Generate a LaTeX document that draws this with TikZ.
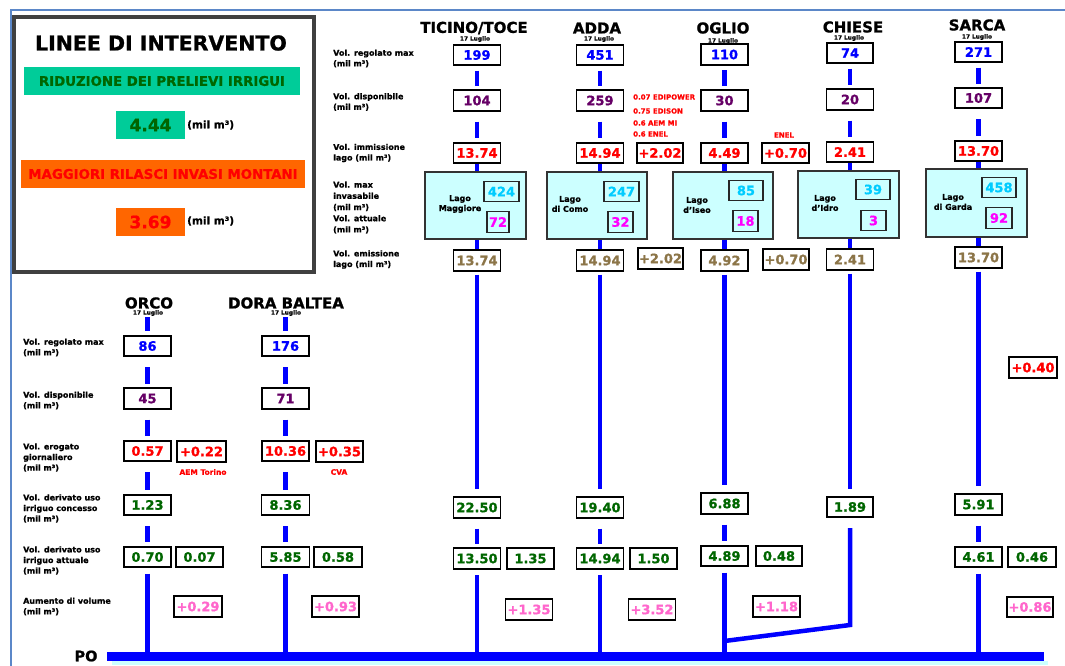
\documentclass[tikz,border=0pt]{standalone}
\usepackage{fontspec}
\setmainfont{DejaVu Sans}[BoldFeatures={FakeBold=1}]
\definecolor{frameblue}{HTML}{5B87C8}
\definecolor{vblue}{HTML}{0000FF}
\definecolor{vpurple}{HTML}{660066}
\definecolor{vred}{HTML}{FF0000}
\definecolor{vcyan}{HTML}{00CCFF}
\definecolor{vmag}{HTML}{FF00FF}
\definecolor{vbrown}{HTML}{8C7548}
\definecolor{vgreen}{HTML}{006600}
\definecolor{vpink}{HTML}{FF66CC}
\definecolor{lakefill}{HTML}{CCFFFF}
\definecolor{mint}{HTML}{00CC99}
\definecolor{orng}{HTML}{FF6600}
\definecolor{legframe}{HTML}{404040}
\newcommand\fsz[1]{\fontsize{#1}{#1}\selectfont\bfseries}
\begin{document}
\begin{tikzpicture}[x=1pt,y=-1pt,
  vbox/.style={draw=black, line width=1.6pt, fill=white, inner sep=0pt,
    minimum width=47pt, minimum height=20.5pt, font=\fsz{13}},
  inbox/.style={draw=black!85, line width=1.3pt, inner sep=0pt,
    minimum height=20.5pt, font=\fsz{13}},
  lake/.style={draw=black!80, line width=1.3pt, fill=lakefill, inner sep=0pt,
    minimum width=101pt, minimum height=67pt},
  lakelab/.style={align=center, inner sep=0pt, font=\fontsize{8}{10}\selectfont\bfseries},
  rowlab/.style={anchor=west, align=left, inner sep=0pt, font=\fontsize{8}{10.6}\selectfont\bfseries},
  rivtitle/.style={inner sep=0pt, font=\fsz{15}},
  datelab/.style={inner sep=0pt, font=\fsz{5.8}},
  note/.style={inner sep=0pt, text=vred, font=\fsz{7}},
  flow/.style={draw=vblue, line width=4.5pt},
  segA/.style={flow, shorten <=4.5pt, shorten >=3pt},
  segB/.style={flow, shorten <=10pt, shorten >=3.5pt},
  trunk/.style={flow, shorten <=3pt, shorten >=7pt},
  tail/.style={flow, shorten <=5.5pt}
]
\useasboundingbox (0,0) rectangle (1065,666);
% frame lines
\draw[frameblue, line width=2pt] (10.5,666) -- (10.5,10.5) -- (1065,10.5);

% legend
\node[draw=legframe, line width=4pt, minimum width=300pt, minimum height=255pt, inner sep=0pt] (leg) at (164,144.5) {};
\node[inner sep=0pt, font=\fsz{20.5}] (legt) at (161,43) {LINEE DI INTERVENTO};
\node[fill=mint, minimum width=276pt, minimum height=28pt, inner sep=0pt, text=vgreen, font=\fsz{13.3}] (leg1) at (162,81) {RIDUZIONE DEI PRELIEVI IRRIGUI};
\node[fill=mint, minimum width=69pt, minimum height=28pt, inner sep=0pt, text=vgreen, font=\fsz{17}] (leg1v) at (150.5,125) {4.44};
\node[anchor=west, inner sep=0pt, font=\fsz{10.5}] (leg1u) at (187,125) {(mil m³)};
\node[fill=orng, minimum width=284pt, minimum height=28pt, inner sep=0pt, text=vred, font=\fsz{13.3}] (leg2) at (163,174) {MAGGIORI RILASCI INVASI MONTANI};
\node[fill=orng, minimum width=69pt, minimum height=28pt, inner sep=0pt, text=vred, font=\fsz{17}] (leg2v) at (150.5,222) {3.69};
\node[anchor=west, inner sep=0pt, font=\fsz{10.5}] (leg2u) at (187,221) {(mil m³)};

% row labels top
\node[rowlab] (lt1) at (333,58.5) {Vol. regolato max\\(mil m³)};
\node[rowlab] (lt2) at (333,102) {Vol. disponibile\\(mil m³)};
\node[rowlab] (lt3) at (333,153) {Vol. immissione\\lago (mil m³)};
\node[rowlab, font=\fontsize{8}{11.2}\selectfont\bfseries] (lt4) at (333,207.5) {Vol. max\\invasabile\\(mil m³)\\Vol. attuale\\(mil m³)};
\node[rowlab] (lt5) at (333,259.5) {Vol. emissione\\lago (mil m³)};
% row labels left
\node[rowlab] (ll1) at (23,347.5) {Vol. regolato max\\(mil m³)};
\node[rowlab] (ll2) at (23,400.5) {Vol. disponibile\\(mil m³)};
\node[rowlab] (ll3) at (23,457.5) {Vol. erogato\\giornaliero\\(mil m³)};
\node[rowlab] (ll4) at (23,508.5) {Vol. derivato uso\\irriguo concesso\\(mil m³)};
\node[rowlab] (ll5) at (23,560.5) {Vol. derivato uso\\irriguo attuale\\(mil m³)};
\node[rowlab] (ll6) at (23,606.5) {Aumento di volume\\(mil m³)};

% PO
\coordinate (poL) at (107,656.5);
\coordinate (poR) at (1044,656.5);
\fill[lakefill] (112,661) rectangle (1048,665);
\draw[vblue, line width=9pt] (poL) -- (poR);
\node[inner sep=0pt, font=\fsz{14.5}] (potxt) at (86,656) {PO};

% titles
\node[rivtitle] (ht) at (474,28) {TICINO/TOCE};
\node[rivtitle] (ha) at (597,28) {ADDA};
\node[rivtitle] (ho) at (723,28) {OGLIO};
\node[rivtitle] (hc) at (853,27) {CHIESE};
\node[rivtitle] (hs) at (977,25) {SARCA};
\node[datelab] (dt) at (475,39) {17 Luglio};
\node[datelab] (da) at (599,39) {17 Luglio};
\node[datelab] (do) at (723,41) {17 Luglio};
\node[datelab] (dc) at (849,38) {17 Luglio};
\node[datelab] (ds) at (977,37) {17 Luglio};

% ---- Ticino
\node[vbox,text=vblue] (t1) at (477,55) {199};
\node[vbox,text=vpurple] (t2) at (477,100.5) {104};
\node[vbox,text=vred] (t3) at (477,153) {13.74};
\node[lake] (tl) at (475.5,205.5) {};
\node[inbox,text=vcyan,minimum width=35pt] (tmax) at (501.5,191.5) {424};
\node[inbox,text=vmag,minimum width=22pt] (tact) at (498,222) {72};
\node[lakelab] (tln) at (460,204) {Lago\\Maggiore};
\node[vbox,text=vbrown] (t4) at (477,260.5) {13.74};
\node[vbox,text=vgreen] (t5) at (477,507.5) {22.50};
\node[vbox,text=vgreen] (t6) at (477,558.5) {13.50};
\node[vbox,text=vgreen] (t6b) at (530.5,558.5) {1.35};
\node[vbox,text=vpink] (t7) at (529,609.5) {+1.35};

% ---- Adda
\node[vbox,text=vblue] (a1) at (600,55) {451};
\node[vbox,text=vpurple] (a2) at (600,100.5) {259};
\node[vbox,text=vred] (a3) at (600,153) {14.94};
\node[vbox,text=vred,minimum width=46pt] (a3b) at (660,153) {+2.02};
\node[lake,minimum width=100pt] (al) at (597,205.5) {};
\node[inbox,text=vcyan,minimum width=35pt] (amax) at (621.5,191.5) {247};
\node[inbox,text=vmag,minimum width=25pt] (aact) at (620.5,222) {32};
\node[lakelab] (aln) at (570,204) {Lago\\di Como};
\node[vbox,text=vbrown] (a4) at (600,260.5) {14.94};
\node[vbox,text=vbrown,minimum width=45pt] (a4b) at (660.5,258.5) {+2.02};
\node[vbox,text=vgreen] (a5) at (600,507.5) {19.40};
\node[vbox,text=vgreen] (a6) at (600,558.5) {14.94};
\node[vbox,text=vgreen] (a6b) at (653.5,558.5) {1.50};
\node[vbox,text=vpink] (a7) at (652,609.5) {+3.52};
\node[note,anchor=west] (n1) at (633,97) {0.07 EDIPOWER};
\node[note,anchor=west] (n2) at (633,111) {0.75 EDISON};
\node[note,anchor=west] (n3) at (633,123) {0.6 AEM MI};
\node[note,anchor=west] (n4) at (633,134) {0.6 ENEL};

% ---- Oglio
\node[vbox,text=vblue] (o1) at (724.5,54.5) {110};
\node[vbox,text=vpurple] (o2) at (724.5,100.5) {30};
\node[vbox,text=vred] (o3) at (724.5,153) {4.49};
\node[vbox,text=vred] (o3b) at (785.5,153) {+0.70};
\node[note] (n5) at (784,135) {ENEL};
\node[lake,minimum width=100pt] (ol) at (723,205.5) {};
\node[inbox,text=vcyan,minimum width=34pt] (omax) at (746,190.5) {85};
\node[inbox,text=vmag,minimum width=25pt] (oact) at (745.5,221) {18};
\node[lakelab] (oln) at (697,205) {Lago\\d'Iseo};
\node[vbox,text=vbrown] (o4) at (724.5,260.5) {4.92};
\node[vbox,text=vbrown,minimum width=46pt] (o4b) at (786,259.5) {+0.70};
\node[vbox,text=vgreen] (o5) at (724.5,503.5) {6.88};
\node[vbox,text=vgreen] (o6) at (724.5,556) {4.89};
\node[vbox,text=vgreen,minimum width=46pt] (o6b) at (779,556) {0.48};
\node[vbox,text=vpink] (o7) at (776.5,606.5) {+1.18};

% ---- Chiese
\node[vbox,text=vblue,minimum width=46pt] (c1) at (850,53) {74};
\node[vbox,text=vpurple] (c2) at (850,99.5) {20};
\node[vbox,text=vred] (c3) at (850,152) {2.41};
\node[lake] (cl) at (848.5,204.5) {};
\node[inbox,text=vcyan,minimum width=34pt] (cmax) at (873,189.5) {39};
\node[inbox,text=vmag,minimum width=25pt] (cact) at (873.5,220.5) {3};
\node[lakelab] (cln) at (825,203) {Lago\\d'Idro};
\node[vbox,text=vbrown] (c4) at (850,259.5) {2.41};
\node[vbox,text=vgreen,minimum width=46pt] (c5) at (850,507) {1.89};

% ---- Sarca
\node[vbox,text=vblue] (s1) at (978.5,52) {271};
\node[vbox,text=vpurple] (s2) at (978.5,98) {107};
\node[vbox,text=vred] (s3) at (978.5,151) {13.70};
\node[lake,minimum height=68pt] (sl) at (976.5,203) {};
\node[inbox,text=vcyan,minimum width=34pt] (smax) at (999,187.5) {458};
\node[inbox,text=vmag,minimum width=26pt] (sact) at (999,218) {92};
\node[lakelab] (sln) at (953,202) {Lago\\di Garda};
\node[vbox,text=vbrown] (s4) at (978.5,257.5) {13.70};
\node[vbox,text=vgreen] (s5) at (978.5,504.5) {5.91};
\node[vbox,text=vgreen] (s6) at (978.5,557) {4.61};
\node[vbox,text=vgreen,minimum width=48pt] (s6b) at (1032,557) {0.46};
\node[vbox,text=vpink,minimum width=46pt] (s7) at (1030,607) {+0.86};
\node[vbox,text=vred,minimum width=48pt] (s8) at (1033,367.5) {+0.40};

% ---- Orco
\node[vbox,text=vblue] (r1) at (147.5,346) {86};
\node[vbox,text=vpurple] (r2) at (147.5,398.5) {45};
\node[vbox,text=vred] (r3) at (147.5,451) {0.57};
\node[vbox,text=vred,minimum width=49pt] (r3b) at (201.5,451.5) {+0.22};
\node[note,font=\fsz{7.5}] (n6) at (203,472) {AEM Torino};
\node[vbox,text=vgreen] (r4) at (147.5,505) {1.23};
\node[vbox,text=vgreen] (r5) at (147.5,557) {0.70};
\node[vbox,text=vgreen] (r5b) at (199.5,557) {0.07};
\node[vbox,text=vpink,minimum width=48pt] (r6) at (198,606.5) {+0.29};

% ---- Dora Baltea
\node[vbox,text=vblue] (d1) at (285.5,346) {176};
\node[vbox,text=vpurple] (d2) at (285.5,398.5) {71};
\node[vbox,text=vred] (d3) at (285.5,451) {10.36};
\node[vbox,text=vred] (d3b) at (339.5,451.5) {+0.35};
\node[note,font=\fsz{7.5}] (n7) at (339,472) {CVA};
\node[vbox,text=vgreen,minimum width=48pt] (d4) at (285.5,505) {8.36};
\node[vbox,text=vgreen,minimum width=48pt] (d5) at (285.5,557) {5.85};
\node[vbox,text=vgreen,minimum width=48pt] (d5b) at (338,557) {0.58};
\node[vbox,text=vpink] (d6) at (335.5,606.5) {+0.93};

% ---- Orco / Dora tops (drawn under titles)
\coordinate (rtop) at (147.5,317);
\coordinate (dtop) at (285.5,317);
\draw[flow, shorten >=4pt] (rtop) -- (r1);
\draw[flow, shorten >=4pt] (dtop) -- (d1);
\node[rivtitle] (hr) at (149,303) {ORCO};
\node[datelab] (dr) at (148,313) {17 Luglio};
\node[rivtitle] (hd) at (286,303) {DORA BALTEA};
\node[datelab] (dd) at (286,313) {17 Luglio};

% ---- connectors
\foreach \u/\v in {r1/r2,r2/r3,r3/r4,r4/r5,d1/d2,d2/d3,d3/d4,d4/d5,
  t2/t3,t5/t6,a2/a3,a5/a6,o2/o3,o5/o6,c2/c3,s2/s3,s5/s6}
  {\draw[segB] (\u) -- (\v);}
\foreach \u/\v in {t1/t2,a1/a2,o1/o2,c1/c2,s1/s2}
  {\draw[segA] (\u) -- (\v);}
\foreach \u/\l/\v in {t3/tl/t4,a3/al/a4,o3/ol/o4,c3/cl/c4,s3/sl/s4}
  {\draw[flow] (\u) -- (\u |- \l.north);
   \draw[flow] (\u |- \l.south) -- (\v);}
\foreach \u/\v in {t4/t5,a4/a5,o4/o5,c4/c5,s4/s5}
  {\draw[trunk] (\u) -- (\v);}
\foreach \u in {r5,d5,t6,a6,o6,s6}
  {\draw[tail] (\u) -- (\u |- poL);}
\coordinate (cb) at (850,625);
\coordinate (ob) at (724.5,641);
\draw[flow, shorten <=10pt, line join=miter] (c5) -- (cb) -- (ob);
\end{tikzpicture}
\end{document}
